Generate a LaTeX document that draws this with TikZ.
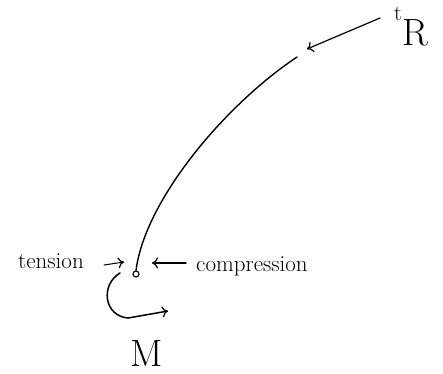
\documentclass[tikz,border=0pt]{standalone}
\usetikzlibrary{arrows.meta}
\begin{document}
\begin{tikzpicture}[x=1pt,y=-1pt,
  ink/.style={line width=1.4pt,line cap=round,black},
  pointer/.style={ink,line width=1.2pt,-{To[length=6pt,width=11pt,line width=1.2pt]}},
  lbl/.style={inner sep=0pt,font=\fontsize{23}{23}\selectfont},
  big/.style={inner sep=0pt,font=\fontsize{38}{38}\selectfont}]
\useasboundingbox (0,0) rectangle (443,373);
% support point
\node[draw,circle,line width=1.1pt,minimum size=6pt,inner sep=0pt] (base) at (136,274) {};
\coordinate (top) at (297,57);
\draw[ink] (base.north) .. controls (145,200) and (225,105) .. (top);
% labels
\node[big,anchor=base west] (tR) at (394,45) {\raisebox{25pt}{\fontsize{22}{22}\selectfont t}\kern1pt R};
\node[lbl,anchor=base] (ten) at (51,268) {tension};
\node[lbl,anchor=base west] (comp) at (196,271) {compression};
\node[big,anchor=base] (M) at (147,366) {M};
% load arrow
\coordinate (tRtail) at (380,18);
\coordinate (tRhead) at (307,49);
\draw[pointer] (tRtail) -- (tRhead);
% tension / compression arrows
\coordinate (tenA) at (104,265);
\coordinate (tenB) at (124,262);
\draw[pointer,line width=1pt] (tenA) -- (tenB);
\coordinate (compA) at (186,263);
\coordinate (compB) at (152,263);
\draw[pointer] (compA) -- (compB);
% moment
\coordinate (m0) at (120,273);
\coordinate (m1) at (128,318);
\coordinate (m2) at (168,311);
\draw[pointer,line width=1.5pt] (m0) .. controls (100,285) and (104,316) .. (m1) -- (m2);
\end{tikzpicture}
\end{document}
